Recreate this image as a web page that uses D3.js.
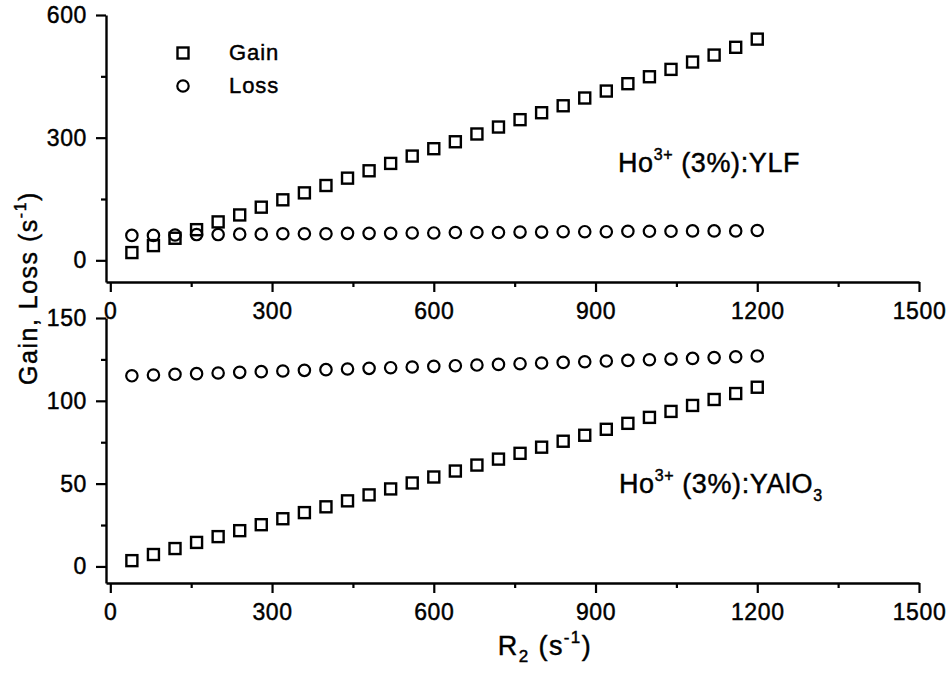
<!DOCTYPE html>
<html><head><meta charset="utf-8">
<script src="https://cdn.jsdelivr.net/npm/d3@7"></script>
<style>
body{margin:0;background:#fff;}
text{font-family:"Liberation Sans",Arial,Helvetica,sans-serif;fill:#000;stroke:#000;stroke-width:0.45px;}
</style></head>
<body><svg id="c" width="946" height="675"></svg>
<script>
const R2 = [40,80,120,160,200,240,280,320,360,400,440,480,520,560,600,640,680,720,760,800,840,880,920,960,1000,1040,1080,1120,1160,1200];
const gainYLF = [19,36,54,75,94,111,130,148,165,183,201,219,237,255,273,290,309,326,344,361,378,397,414,432,449,467,485,502,521,541];
const lossYLF = [61,61,62,63,63,64,64,65,65,65,66,66,66,67,67,68,68,68,69,69,70,70,70,71,71,71,72,72,72,73];
const gainYAlO = [3.5,7.2,10.8,14.5,18,21.6,25.2,28.8,32.5,36,39.6,43.2,46.8,50.4,54,57.6,61.2,64.8,68.3,72,75.6,79.2,82.8,86.4,90,93.6,97.2,100.8,104.4,108.2];
const lossYAlO = [115.1,115.6,116.0,116.4,116.8,117.2,117.6,118.0,118.4,118.8,119.2,119.6,120.0,120.4,120.8,121.2,121.6,122.0,122.4,122.8,123.2,123.6,124.0,124.4,124.8,125.2,125.6,126.1,126.6,127.1];
const xTicks = [0,300,600,900,1200,1500];
const xMinor = [150,450,750,1050,1350];
const yTicksTop = [0,300,600];
const yMinorTop = [150,450];
const yTicksBot = [0,50,100,150];
const yMinorBot = [25,75,125];

const svg = d3.select("#c");
const x = d3.scaleLinear().domain([-8,1500]).range([106,919]);

const panels = [
  {y: d3.scaleLinear().domain([-53,600]).range([282,15]), ticks:yTicksTop, minor:yMinorTop, gain:gainYLF, loss:lossYLF},
  {y: d3.scaleLinear().domain([-10,150]).range([583,318]), ticks:yTicksBot, minor:yMinorBot, gain:gainYAlO, loss:lossYAlO}
];

panels.forEach(p => {
  const y0 = p.y.range()[0];
  svg.append("g").attr("transform",`translate(0,${y0})`)
    .call(d3.axisBottom(x).tickValues(xMinor).tickSize(5).tickFormat("").tickSizeOuter(0))
    .call(g=>g.select(".domain").remove());
  svg.append("g").attr("transform",`translate(106,0)`)
    .call(d3.axisLeft(p.y).tickValues(p.minor).tickSize(5).tickFormat("").tickSizeOuter(0))
    .call(g=>g.select(".domain").remove());
  const gx = svg.append("g").attr("transform",`translate(0,${y0})`)
    .call(d3.axisBottom(x).tickValues(xTicks).tickSize(10).tickPadding(7).tickSizeOuter(0).tickFormat(d3.format("d")));
  gx.selectAll("text").attr("font-size",23).attr("letter-spacing",0.6).attr("font-family","Liberation Sans, Arial").attr("dy","0.85em");
  const gy = svg.append("g").attr("transform",`translate(106,0)`)
    .call(d3.axisLeft(p.y).tickValues(p.ticks).tickSize(10).tickPadding(9).tickSizeOuter(0).tickFormat(d3.format("d")));
  gy.selectAll("text").attr("font-size",23).attr("letter-spacing",0.6).attr("font-family","Liberation Sans, Arial");
  svg.selectAll(".tick line").attr("stroke","#000").attr("stroke-width",2.2);
  svg.selectAll(".domain").attr("stroke","#000").attr("stroke-width",2.4);

  const pts = R2.map((r,i)=>({x:r, g:p.gain[i], l:p.loss[i]}));
  svg.append("g").selectAll("circle").data(pts).join("circle")
    .attr("cx",d=>x(d.x)).attr("cy",d=>p.y(d.l)).attr("r",5.7)
    .attr("fill","none").attr("stroke","#000").attr("stroke-width",2.2);
  svg.append("g").selectAll("rect").data(pts).join("rect")
    .attr("x",d=>x(d.x)-5.5).attr("y",d=>p.y(d.g)-5.5).attr("width",11).attr("height",11)
    .attr("fill","none").attr("stroke","#000").attr("stroke-width",2.4);
});

// legend
svg.append("rect").attr("x",177.5).attr("y",47.5).attr("width",11).attr("height",11)
  .attr("fill","none").attr("stroke","#000").attr("stroke-width",2.4);
svg.append("circle").attr("cx",183).attr("cy",86).attr("r",5.7)
  .attr("fill","none").attr("stroke","#000").attr("stroke-width",2.2);
svg.append("text").attr("x",229).attr("y",60).attr("font-size",22).attr("letter-spacing",0.9).text("Gain");
svg.append("text").attr("x",229).attr("y",93).attr("font-size",22).attr("letter-spacing",0.9).text("Loss");

// annotations
function label(xp, yp, sub) {
  const t = svg.append("text").attr("x",xp).attr("y",yp).attr("font-size",27).attr("letter-spacing",0.6);
  t.append("tspan").text("Ho");
  t.append("tspan").attr("font-size",16).attr("dy",-12).text("3+");
  t.append("tspan").attr("dy",12).text(" (3%):" + (sub ? "YAlO" : "YLF"));
  if (sub) t.append("tspan").attr("font-size",16).attr("dy",8).text("3");
}
label(618,172,false);
label(619,493,true);

// axis titles
const xt = svg.append("text").attr("x",545).attr("y",655).attr("text-anchor","middle").attr("font-size",27).attr("letter-spacing",1.4);
xt.append("tspan").text("R");
xt.append("tspan").attr("font-size",17).attr("dy",7).text("2");
xt.append("tspan").attr("dy",-7).text(" (s");
xt.append("tspan").attr("font-size",17).attr("dy",-12).text("-1");
xt.append("tspan").attr("dy",12).text(")");

const yt = svg.append("text").attr("transform","translate(37,288) rotate(-90)").attr("text-anchor","middle").attr("font-size",25).attr("letter-spacing",1.5);
yt.append("tspan").text("Gain, Loss (s");
yt.append("tspan").attr("font-size",16).attr("dy",-11).text("-1");
yt.append("tspan").attr("dy",11).text(")");
</script></body></html>
